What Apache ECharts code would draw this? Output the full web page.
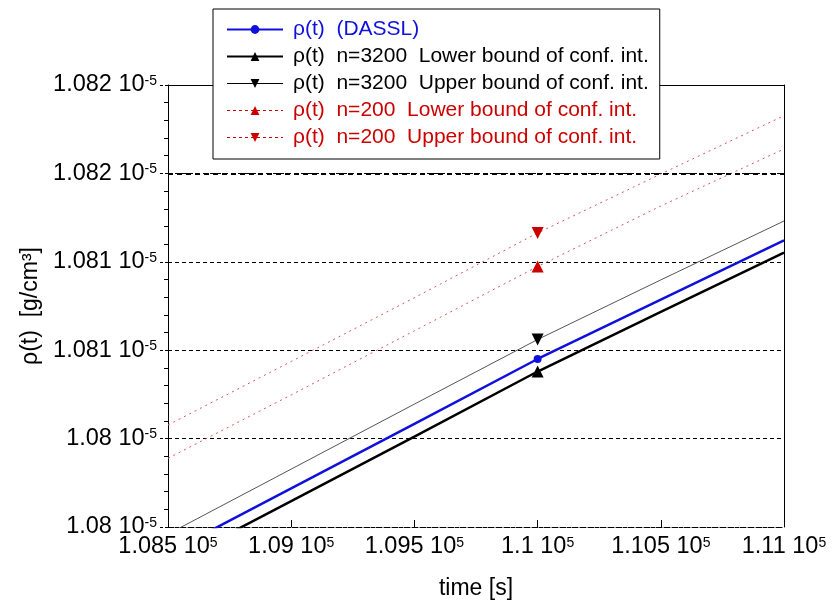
<!DOCTYPE html>
<html><head><meta charset="utf-8">
<script src="https://cdn.jsdelivr.net/npm/echarts@6/dist/echarts.min.js"></script>
<style>html,body{margin:0;padding:0;background:#fff}#c{width:832px;height:610px}</style>
</head><body><div id="c"></div>
<script>
// time [s]
const times = [108500, 109000, 109500, 110000, 110500, 111000];
// density values in units of 1e-5 g/cm3
const rhoDassl   = [1.0798828, 1.0801747, 1.0804665, 1.0807602, 1.0810294, 1.0812973];
const rhoLow3200 = [1.0798253, 1.0801172, 1.0804090, 1.0807036, 1.0809729, 1.0812412];
const rhoUp3200  = [1.0799679, 1.0802620, 1.0805561, 1.0808484, 1.0811181, 1.0813846];
const rhoLow200  = [1.0803109, 1.0805977, 1.0808878, 1.0811787, 1.0814525, 1.0817104];
const rhoUp200   = [1.0804615, 1.0807489, 1.0810376, 1.0813303, 1.0815973, 1.0818611];
const markerTime = 110000;
const seriesNames = [
  'ρ(t)  (DASSL)',
  'ρ(t)  n=3200  Lower bound of conf. int.',
  'ρ(t)  n=3200  Upper bound of conf. int.',
  'ρ(t)  n=200  Lower bound of conf. int.',
  'ρ(t)  n=200  Upper bound of conf. int.'
];
const xMin = 108500, xMax = 111000, xStep = 500;
const yMin = 1.0800, yMax = 1.0820, yStep = 0.0004, yThick = 1.0816; // in 1e-5 units
const yExp = '-5', xExp = '5';
const xTitle = 'time [s]';
const yTitle = 'ρ(t)  [g/cm³]';

const S = 1e4; // axis works in 1e-9 g/cm3 so ticks are integers
const FF = '"Liberation Sans", Arial, sans-serif';

function mk(vals) {
  return times.map((t, i) => {
    const d = { value: [t, Math.round(vals[i] * S * 1e4) / 1e4] };
    if (t !== markerTime) d.symbol = 'none';
    return d;
  });
}

const blue = '#1010dd', red = '#cc0000';

const chart = echarts.init(document.getElementById('c'), null, { renderer: 'canvas' });
chart.setOption({
  animation: false,
  backgroundColor: '#fff',
  textStyle: { fontFamily: FF },
  grid: { left: 168, right: 48, top: 85, bottom: 83, show: false },
  legend: {
    orient: 'vertical', left: 213, top: 9,
    padding: [10, 11, 11, 13],
    itemWidth: 56, itemHeight: 11, itemGap: 6,
    borderColor: '#000', borderWidth: 1, backgroundColor: '#fff',
    textStyle: { fontSize: 21, fontFamily: FF, padding: [0, 0, 0, 5] },
    data: [
      { name: seriesNames[0], textStyle: { color: blue } },
      { name: seriesNames[1], textStyle: { color: '#000' } },
      { name: seriesNames[2], textStyle: { color: '#000' }, lineStyle: { color: '#000', width: 1.2 } },
      { name: seriesNames[3], textStyle: { color: red }, lineStyle: { color: red, type: [3, 3], width: 1 } },
      { name: seriesNames[4], textStyle: { color: red }, lineStyle: { color: red, type: [3, 3], width: 1 } }
    ],
    selectedMode: false
  },
  xAxis: [{
    type: 'value', min: xMin, max: xMax, interval: xStep,
    name: xTitle, nameLocation: 'middle', nameGap: 50,
    nameTextStyle: { fontSize: 23, color: '#000', fontFamily: FF },
    axisLine: { onZero: false, lineStyle: { color: '#000', width: 1, type: [2, 2] } },
    axisTick: { inside: true, length: 7, lineStyle: { color: '#000' } },
    splitLine: { show: false },
    axisLabel: {
      margin: 9, color: '#000',
      formatter: v => `{a|${parseFloat((v / 1e5).toFixed(4))} 10}{s|${xExp}}`,
      rich: {
        a: { fontSize: 23.5, lineHeight: 22, fontFamily: FF, color: '#000' },
        s: { fontSize: 14, verticalAlign: 'top', fontFamily: FF, color: '#000' }
      }
    }
  }, {
    type: 'value', min: xMin, max: xMax, position: 'top',
    axisLine: { onZero: false, lineStyle: { color: '#000', width: 1 } },
    axisTick: { show: false }, axisLabel: { show: false }, splitLine: { show: false }
  }],
  yAxis: [{
    type: 'value', min: yMin * S, max: yMax * S, interval: yStep * S,
    name: yTitle, nameLocation: 'middle', nameGap: 126,
    nameTextStyle: { fontSize: 23, color: '#000', fontFamily: FF },
    axisLine: { onZero: false, lineStyle: { color: '#000', width: 1 } },
    axisTick: { inside: false, length: 10, lineStyle: { color: '#000', type: [3, 2] } },
    minorTick: { show: true, splitNumber: 5, length: 4, lineStyle: { color: '#000' } },
    splitLine: { show: true, lineStyle: { color: '#000', width: 1, type: [4, 3] } },
    axisLabel: {
      margin: 11, color: '#000',
      formatter: v => `{a|${parseFloat((v / S).toFixed(3))} 10}{s|${yExp}}`,
      rich: {
        a: { fontSize: 23.5, lineHeight: 22, fontFamily: FF, color: '#000' },
        s: { fontSize: 14, verticalAlign: 'top', fontFamily: FF, color: '#000' }
      }
    }
  }, {
    type: 'value', min: yMin * S, max: yMax * S, position: 'right',
    axisLine: { onZero: false, lineStyle: { color: '#000', width: 1 } },
    axisTick: { show: false }, axisLabel: { show: false }, splitLine: { show: false }
  }],
  series: [
    {
      name: seriesNames[0], type: 'line', data: mk(rhoDassl),
      symbol: 'circle', symbolSize: 8, z: 5,
      itemStyle: { color: blue }, lineStyle: { color: blue, width: 2.5 },
      markLine: {
        silent: true, symbol: 'none', label: { show: false },
        lineStyle: { color: '#000', width: 2, type: [5, 4] },
        data: [{ yAxis: yThick * S }]
      }
    },
    {
      name: seriesNames[1], type: 'line', data: mk(rhoLow3200),
      symbol: 'triangle', symbolSize: 12, z: 4,
      itemStyle: { color: '#000' }, lineStyle: { color: '#000', width: 2.5 }
    },
    {
      name: seriesNames[2], type: 'line', data: mk(rhoUp3200),
      symbol: 'triangle', symbolRotate: 180, symbolSize: 12, z: 4,
      itemStyle: { color: '#000' }, lineStyle: { color: '#555', width: 1 }
    },
    {
      name: seriesNames[3], type: 'line', data: mk(rhoLow200),
      symbol: 'triangle', symbolSize: 12, z: 3,
      itemStyle: { color: red }, lineStyle: { color: '#e05555', width: 1, type: [2, 4] }
    },
    {
      name: seriesNames[4], type: 'line', data: mk(rhoUp200),
      symbol: 'triangle', symbolRotate: 180, symbolSize: 12, z: 3,
      itemStyle: { color: red }, lineStyle: { color: '#e05555', width: 1, type: [2, 4] }
    }
  ]
});
</script>
</body></html>
